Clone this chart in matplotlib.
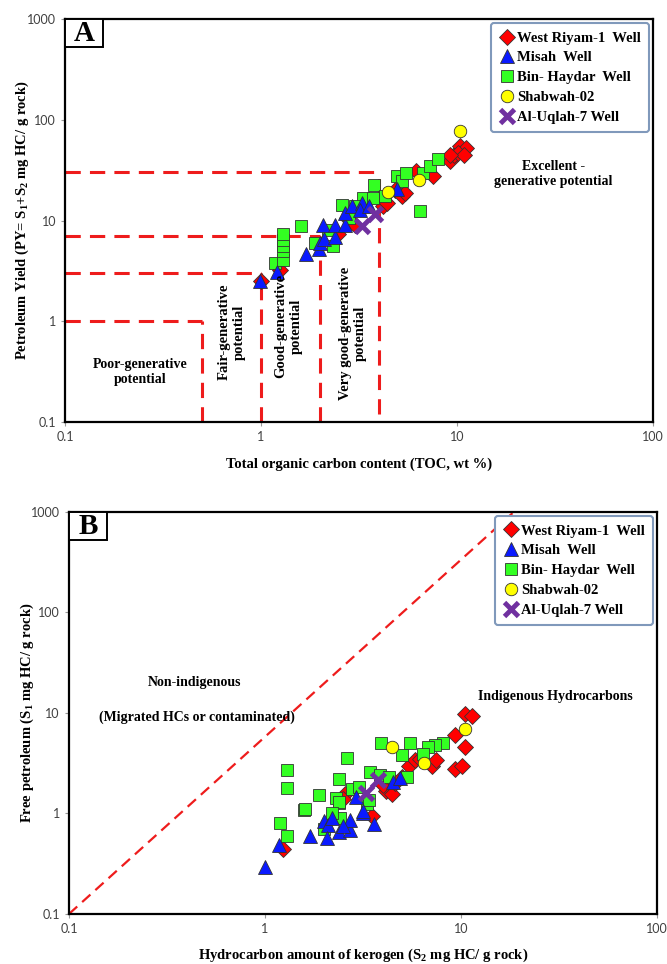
import matplotlib
matplotlib.use("Agg")
import matplotlib.pyplot as plt
from matplotlib.patches import Rectangle

plt.rcParams['mathtext.fontset'] = 'custom'
plt.rcParams['mathtext.rm'] = 'Liberation Serif:bold'
plt.rcParams['mathtext.it'] = 'Liberation Serif:bold'
plt.rcParams['mathtext.bf'] = 'Liberation Serif:bold'

SERIF = 'Liberation Serif'

# ---- panel A : TOC vs petroleum yield
wr_toc = [1.0, 1.25, 2.46, 2.75, 3.02, 4.21, 4.4, 4.8, 5.21, 5.4, 6.2, 7.57, 9.21, 9.6, 10.4, 11.1, 10.1, 10.9, 9.2]
wr_py = [2.5, 3.2, 7.3, 10.7, 9.1, 13.9, 15.0, 20.0, 17.4, 18.8, 30.8, 27.5, 38.7, 45.0, 54.5, 52.5, 46.8, 45.0, 45.0]
ms_toc = [0.99, 1.2, 1.70, 1.98, 2.0, 2.1, 2.39, 2.07, 2.39, 2.68, 2.68, 2.9, 3.26, 3.2, 3.56, 4.92]
ms_py = [2.5, 3.08, 4.68, 5.2, 6.0, 6.5, 6.8, 9.1, 9.1, 9.1, 11.9, 13.9, 15.0, 12.8, 13.9, 20.6]
bh_toc = [1.18, 1.29, 1.29, 1.29, 1.29, 1.29, 1.59, 1.89, 2.34, 2.58, 3.33, 3.73, 3.78, 4.29, 4.92,
          5.21, 5.5, 6.48, 6.7, 7.28, 8.03, 2.2, 2.8, 3.0]
bh_py = [3.75, 4.1, 5.0, 5.6, 6.4, 7.3, 8.8, 6.0, 5.6, 14.4, 16.8, 16.8, 22.7, 17.4, 27.9,
         24.5, 29.7, 12.4, 29.7, 34.5, 40.8, 8.0, 10.5, 14.0]
sh_toc = [4.43, 6.4, 10.4]
sh_py = [19.2, 25.0, 78.0]
uq_toc = [3.26, 3.82]
uq_py = [8.9, 11.5]

# potential class boundaries (PY levels and TOC levels)
h_levels = [1, 3, 7, 30]
h_ends = [0.5, 1, 2, 4]
v_levels = [0.5, 1, 2, 4]
v_bottoms = [0.1, 0.1, 0.1, 0.12]
v_tops = [1, 3, 7, 30]

# ---- panel B : S2 vs S1
wr_s2 = [1.23, 2.56, 3.5, 4.15, 4.43, 5.4, 5.8, 7.1, 7.5, 9.3, 10.5, 9.3, 10.1, 10.5, 11.4, 4.0, 4.6, 5.0, 6.2, 2.5]
wr_s1 = [0.44, 1.57, 0.95, 1.69, 1.55, 3.0, 3.4, 3.0, 3.4, 6.1, 4.6, 2.8, 3.0, 9.8, 9.4, 1.9, 2.0, 2.3, 3.5, 1.4]
ms_s2 = [1.0, 1.18, 1.70, 1.99, 2.09, 2.07, 2.39, 2.70, 3.18, 3.58, 2.91, 3.18, 2.72, 4.5, 4.9, 2.2, 2.5]
ms_s1 = [0.29, 0.49, 0.60, 0.85, 0.76, 0.57, 0.65, 0.69, 1.0, 0.78, 1.45, 1.07, 0.87, 2.08, 2.27, 0.9, 0.75]
bh_s2 = [1.19, 1.30, 1.58, 2.41, 2.39, 3.3, 8.1, 7.4, 6.8, 6.4, 5.3, 5.5, 5.0, 3.9, 2.61, 1.29, 1.29,
         2.39, 3.43, 3.86, 4.3, 2.77, 3.03, 1.89, 2.29, 2.39, 1.6, 3.4, 2.0, 2.2]
bh_s1 = [0.80, 0.60, 1.09, 0.91, 1.27, 1.25, 5.0, 4.8, 4.6, 3.9, 2.33, 5.0, 3.8, 5.0, 3.6, 2.68, 1.8,
         2.2, 2.58, 2.39, 2.3, 1.76, 1.83, 1.53, 1.42, 1.30, 1.11, 1.35, 0.7, 1.0]
sh_s2 = [10.5, 6.5, 4.43]
sh_s1 = [7.0, 3.2, 4.6]
uq_s2 = [3.78, 3.27]
uq_s1 = [2.13, 1.59]

diag_x = [0.1, 18.6]
diag_y = [0.1, 1000]

ticks_x = [0.1, 1, 10, 100]
ticks_y = [0.1, 1, 10, 100, 1000]
ticks_x_lab = ['0.1', '1', '10', '100']
ticks_y_lab = ['0.1', '1', '10', '100', '1000']

wells = ['West Riyam-1  Well', 'Misah  Well', 'Bin- Haydar  Well', 'Shabwah-02', 'Al-Uqlah-7 Well']


def style_axes(ax):
    ax.set_xscale('log')
    ax.set_yscale('log')
    ax.set_xlim(0.1, 100)
    ax.set_ylim(0.1, 1000)
    ax.set_xticks(ticks_x, labels=ticks_x_lab)
    ax.set_yticks(ticks_y, labels=ticks_y_lab)
    ax.minorticks_off()
    ax.tick_params(length=3, width=0.8, color='#999999', labelsize=9, labelcolor='#404040')
    for lab in ax.get_xticklabels() + ax.get_yticklabels():
        lab.set_family('Lato')
    for s in ax.spines.values():
        s.set_linewidth(1.6)


def draw_points(ax, xs, ys):
    mk = dict(linestyle='none', markeredgecolor='#333333', markeredgewidth=0.6)
    ax.plot(xs[0], ys[0], 'D', color='#ff0000', markersize=8, label=wells[0], **mk)
    ax.plot(xs[2], ys[2], 's', color='#33ff22', markersize=9, label=wells[2], **mk)
    ax.plot(xs[1], ys[1], '^', color='#0a1aff', markersize=10, label=wells[1], **mk)
    ax.plot(xs[3], ys[3], 'o', color='#ffff00', markersize=9, label=wells[3], **mk)
    ax.plot(xs[4], ys[4], 'x', color='#7030a0', markersize=10, markeredgewidth=3.5,
            linestyle='none', label=wells[4])
    h, l = ax.get_legend_handles_labels()
    order = [0, 2, 1, 3, 4]
    leg = ax.legend([h[i] for i in order], [l[i] for i in order], loc='upper right',
                    prop={'family': SERIF, 'weight': 'bold', 'size': 10.5},
                    fancybox=True, framealpha=1, edgecolor='#8099bb',
                    handlelength=1.0, handletextpad=0.2, labelspacing=0.45,
                    borderpad=0.55, borderaxespad=0.3, markerscale=1.0)
    leg.get_frame().set_linewidth(1.5)


def panel_tag(ax, tag):
    w = 38 / 588
    hgt = 28 / 403
    ax.add_patch(Rectangle((0, 1 - hgt), w, hgt, transform=ax.transAxes, fc='white',
                           ec='black', lw=1.4, zorder=5, clip_on=False))
    ax.text(w / 2, 1 - hgt / 2 - 0.002, tag, transform=ax.transAxes, ha='center', va='center',
            fontsize=21, family=SERIF, weight='bold', zorder=6)


fig = plt.figure(figsize=(6.67, 9.64), dpi=100)
axA = fig.add_axes([0.0975, 0.5622, 0.8816, 0.418])
axB = fig.add_axes([0.1034, 0.0519, 0.8816, 0.417])

# ---------------- A
style_axes(axA)
red = '#ee1c1c'
for lv, end in zip(h_levels, h_ends):
    axA.plot([0.1, end], [lv, lv], color=red, lw=2.2, dashes=(5, 3))
for lv, bot, top in zip(v_levels, v_bottoms, v_tops):
    axA.plot([lv, lv], [bot, top], color=red, lw=2.2, dashes=(5, 3))

draw_points(axA, [wr_toc, ms_toc, bh_toc, sh_toc, uq_toc], [wr_py, ms_py, bh_py, sh_py, uq_py])
panel_tag(axA, 'A')

tkw = dict(transform=axA.transAxes, family=SERIF, weight='bold', fontsize=10,
           ha='center', va='center', multialignment='center')
axA.text(0.128, 0.124, 'Poor-generative\npotential', **tkw)
tkw['fontsize'] = 10.5
axA.text(0.284, 0.223, 'Fair-generative\npotential', rotation=90, **tkw)
axA.text(0.380, 0.238, 'Good-generative\npotential', rotation=90, **tkw)
axA.text(0.490, 0.220, 'Very good-generative\npotential', rotation=90, **tkw)
tkw['fontsize'] = 10
axA.text(0.830, 0.615, 'Excellent -\ngenerative potential', **tkw)

axA.set_xlabel('Total organic carbon content (TOC, wt %)', family=SERIF, weight='bold',
               fontsize=10.5)
axA.set_ylabel('Petroleum Yield (PY= S$_1$+S$_2$ mg HC/ g rock)', family=SERIF, weight='bold',
               fontsize=10.5)
axA.xaxis.set_label_coords(0.5, -0.104)
axA.yaxis.set_label_coords(-0.073, 0.5)

# ---------------- B
style_axes(axB)
axB.plot(diag_x, diag_y, color=red, lw=1.6, dashes=(5, 3))
draw_points(axB, [wr_s2, ms_s2, bh_s2, sh_s2, uq_s2], [wr_s1, ms_s1, bh_s1, sh_s1, uq_s1])
panel_tag(axB, 'B')

tkw['transform'] = axB.transAxes
axB.text(0.214, 0.575, 'Non-indigenous', **tkw)
axB.text(0.218, 0.490, '(Migrated HCs or contaminated)', **tkw)
axB.text(0.827, 0.540, 'Indigenous Hydrocarbons', **tkw)

axB.set_xlabel('Hydrocarbon amount of kerogen (S$_2$ mg HC/ g rock)', family=SERIF, weight='bold',
               fontsize=10.5)
axB.set_ylabel('Free petroleum (S$_1$ mg HC/ g rock)', family=SERIF, weight='bold',
               fontsize=10.5)
axB.xaxis.set_label_coords(0.5, -0.102)
axB.yaxis.set_label_coords(-0.071, 0.5)

for ax in (axA, axB):
    ax.xaxis.label.set_va('center')
    ax.yaxis.label.set_va('center')

fig.savefig('out.png', dpi=100)
